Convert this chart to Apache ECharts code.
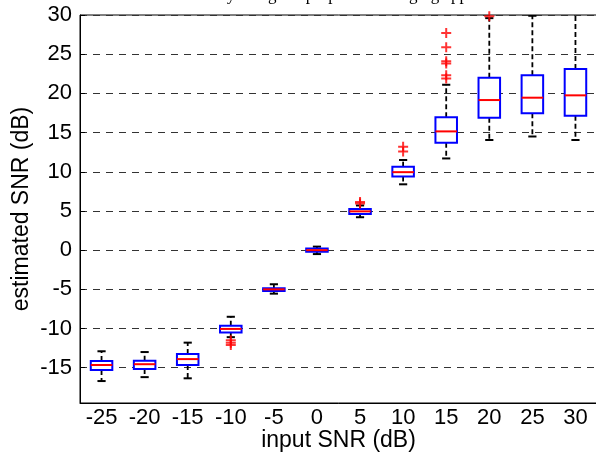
<!DOCTYPE html>
<html>
<head>
<meta charset="utf-8">
<title>estimated SNR</title>
<script src="https://cdn.jsdelivr.net/npm/echarts@6/dist/echarts.min.js"></script>
<style>
    body { margin: 0; background: #fff; }
    #main { width: 596px; height: 453px; }
</style>
</head>
<body>
<div id="main"></div>
<script>
// input SNR categories (dB)
var categories = ['-25', '-20', '-15', '-10', '-5', '0', '5', '10', '15', '20', '25', '30'];
// box statistics
var whiskerLow  = [-16.7, -16.2, -16.35, -11.1, -5.55, -0.5, 4.2, 8.4, 11.7, 14.05, 14.5, 14.05];
var quart1      = [-15.3, -15.15, -14.65, -10.5, -5.2, -0.2, 4.6, 9.4, 13.7, 16.9, 17.45, 17.15];
var medians     = [-14.65, -14.55, -13.9, -10.05, -5.0, 0.0, 4.95, 9.95, 15.15, 19.15, 19.45, 19.75];
var quart3      = [-14.15, -14.1, -13.25, -9.65, -4.85, 0.2, 5.25, 10.65, 16.95, 22.0, 22.3, 23.1];
var whiskerHigh = [-12.9, -13.0, -11.8, -8.5, -4.35, 0.45, 5.7, 11.5, 21.1, 29.6, 29.9, 31];
// outliers (red +)
var outlierCat = ['-10', '-10', '-10', '5', '5', '10', '10', '15', '15', '15', '15', '15', '15', '20'];
var outlierVal = [-11.5, -11.8, -12.1, 5.95, 6.15, 12.6, 13.2, 21.9, 22.3, 23.8, 24.1, 25.9, 27.7, 29.85];
// y axis range
var yMin = -19.5, yMax = 30;

var titleText = 'Accuracy using the proposed averaging approach';
var sansFont = 'Liberation Sans';

var boxData = [];
for (var i = 0; i < categories.length; i++) {
    boxData.push([i, whiskerLow[i], quart1[i], medians[i], quart3[i], whiskerHigh[i]]);
}
var outlierData = [];
for (var k = 0; k < outlierCat.length; k++) {
    outlierData.push([outlierCat[k], outlierVal[k]]);
}

function renderBox(params, api) {
    var i = api.value(0);
    var lo = api.coord([i, api.value(1)]);
    var b1 = api.coord([i, api.value(2)]);
    var md = api.coord([i, api.value(3)]);
    var b3 = api.coord([i, api.value(4)]);
    var hi = api.coord([i, api.value(5)]);
    var band = api.size([1, 0])[0];
    var hw = band * 0.25;
    var cw = band * 0.095;
    var x = lo[0];
    var dash = {stroke: '#000', lineWidth: 1.8, lineDash: [5, 3]};
    var solid = {stroke: '#000', lineWidth: 2};
    return {
        type: 'group',
        children: [
            {type: 'line', shape: {x1: x, y1: b3[1], x2: x, y2: hi[1]}, style: dash},
            {type: 'line', shape: {x1: x, y1: b1[1], x2: x, y2: lo[1]}, style: dash},
            {type: 'line', shape: {x1: x - cw, y1: hi[1], x2: x + cw, y2: hi[1]}, style: solid},
            {type: 'line', shape: {x1: x - cw, y1: lo[1], x2: x + cw, y2: lo[1]}, style: solid},
            {type: 'rect', shape: {x: x - hw, y: b3[1], width: hw * 2, height: b1[1] - b3[1]},
                style: {fill: '#fff', stroke: '#0000ff', lineWidth: 2}},
            {type: 'line', shape: {x1: x - hw, y1: md[1], x2: x + hw, y2: md[1]},
                style: {stroke: '#ff0000', lineWidth: 2}}
        ]
    };
}

var chart = echarts.init(document.getElementById('main'));
var option = {
    animation: false,
    backgroundColor: '#fff',
    graphic: [{
        type: 'text',
        x: 338,
        y: 4,
        style: {
            text: titleText,
            align: 'center',
            verticalAlign: 'bottom',
            font: '17px "Liberation Serif"',
            fill: '#000'
        }
    }],
    grid: {
        left: 80,
        top: 15,
        width: 517,
        height: 388,
        outerBoundsMode: 'none',
        containLabel: false,
        show: true,
        borderColor: '#000',
        borderWidth: 1,
        backgroundColor: 'transparent'
    },
    xAxis: {
        type: 'category',
        data: categories,
        boundaryGap: true,
        name: 'input SNR (dB)',
        nameLocation: 'middle',
        nameGap: 26,
        nameMoveOverlap: false,
        nameTextStyle: {fontFamily: sansFont, fontSize: 23, color: '#000'},
        axisLine: {onZero: false, lineStyle: {color: '#000', width: 1}},
        axisTick: {show: false},
        axisLabel: {fontFamily: sansFont, fontSize: 22, color: '#000', margin: 4},
        splitLine: {show: false}
    },
    yAxis: {
        type: 'value',
        min: yMin,
        max: yMax,
        splitNumber: 10,
        name: 'estimated SNR (dB)',
        nameLocation: 'middle',
        nameGap: 47,
        nameMoveOverlap: false,
        nameTextStyle: {fontFamily: sansFont, fontSize: 23, color: '#000'},
        axisLine: {show: true, lineStyle: {color: '#000', width: 1}},
        axisTick: {show: true, inside: true, length: 5, lineStyle: {color: '#000'}},
        axisLabel: {
            fontFamily: sansFont, fontSize: 22, color: '#000', margin: 8,
            showMinLabel: false,
            formatter: function (v) { return v % 5 === 0 ? String(v) : ''; }
        },
        splitLine: {show: true, lineStyle: {color: '#333', width: 1, type: [7, 6]}}
    },
    series: [{
        type: 'custom',
        renderItem: renderBox,
        clip: true,
        encode: {x: 0, y: [1, 2, 3, 4, 5]},
        data: boxData,
        z: 3
    }, {
        type: 'scatter',
        data: outlierData,
        symbol: 'path://M4,0H6V4H10V6H6V10H4V6H0V4H4Z',
        symbolSize: 10,
        itemStyle: {color: '#ff0000'},
        z: 4
    }]
};
chart.setOption(option);
</script>
</body>
</html>
